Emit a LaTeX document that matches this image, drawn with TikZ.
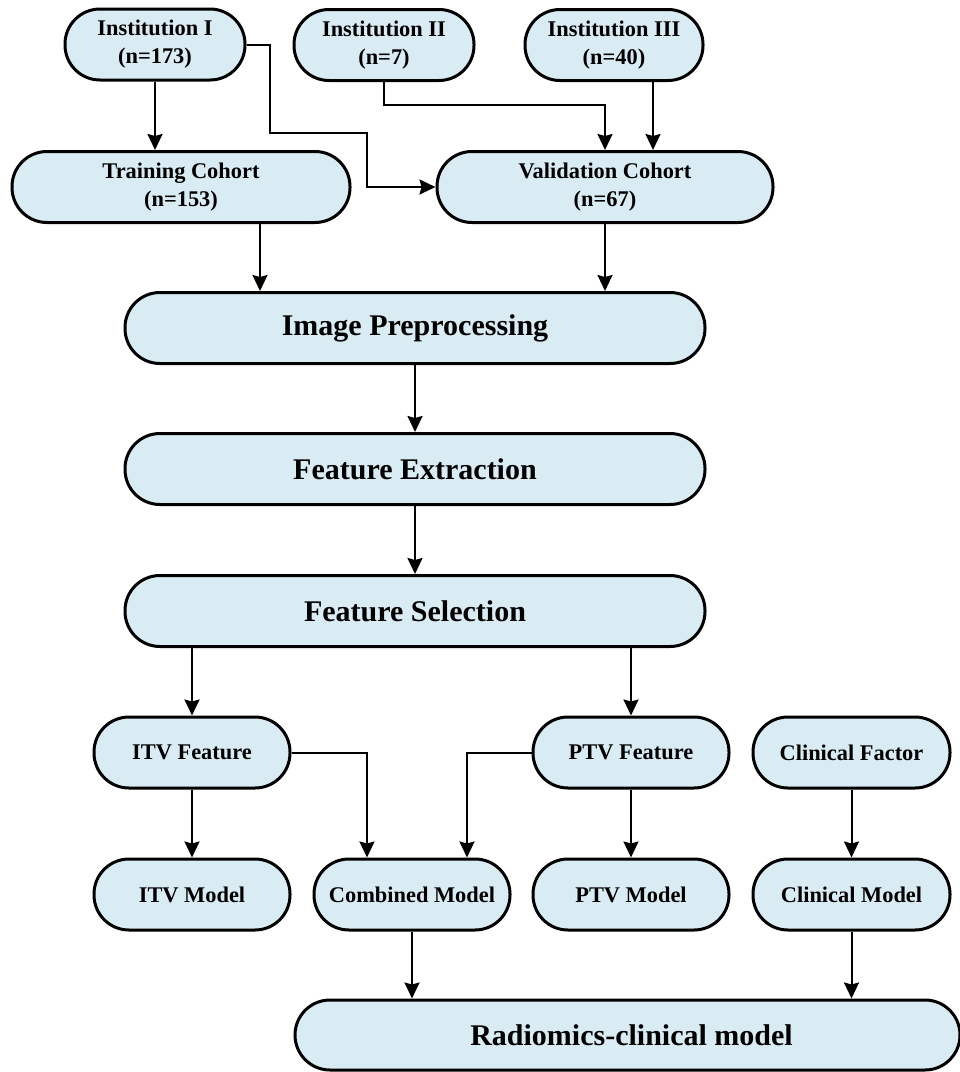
\documentclass[tikz,border=0pt]{standalone}
\usepackage{fontspec}
\setmainfont{Liberation Serif}
\usetikzlibrary{arrows.meta,positioning}
\definecolor{boxfill}{RGB}{218,236,243}
\tikzset{block/.style={draw, line width=3pt, fill=boxfill, rectangle, rounded corners=35pt, minimum height=71pt, align=center, font=\fontsize{22.4}{28}\selectfont\bfseries}, wide/.style={block, minimum width=580pt, font=\fontsize{30}{36}\selectfont\bfseries}, arr/.style={line width=2pt, -{Stealth[length=16pt,width=15pt,inset=2pt]}}}

\begin{document}
\begin{tikzpicture}[x=1pt,y=-1pt]
    \useasboundingbox (0,0) rectangle (960,1072);
    \node[block, minimum width=180pt] (inst1) at (155,44.5) {Institution I\\(n=173)};
    \node[block, minimum width=180pt] (inst2) at (384,45) {Institution II\\(n=7)};
    \node[block, minimum width=178pt] (inst3) at (614,45) {Institution III\\(n=40)};
    \node[block, minimum width=338pt] (train) at (181,187) {Training Cohort\\(n=153)};
    \node[block, minimum width=336pt] (valid) at (605,187) {Validation Cohort\\(n=67)};
    \node[wide] (prep) at (415,328) {Image Preprocessing};
    \node[wide] (extr) at (415,469) {Feature Extraction};
    \node[wide] (sel) at (415,611) {Feature Selection};
    \node[block, minimum width=196pt] (itvf) at (192,752.5) {ITV Feature};
    \node[block, minimum width=196pt] (ptvf) at (631,752.5) {PTV Feature};
    \node[block, minimum width=197pt] (clinf) at (851.5,752.5) {Clinical Factor};
    \node[block, minimum width=196pt] (itvm) at (192,894.5) {ITV Model};
    \node[block, minimum width=196pt] (comb) at (412,894.5) {Combined Model};
    \node[block, minimum width=196pt] (ptvm) at (631,894.5) {PTV Model};
    \node[block, minimum width=197pt] (clinm) at (851.5,894.5) {Clinical Model};
    \node[wide, minimum width=665pt, minimum height=70pt] (radio) at (627.5,1035) {\hspace*{8pt}Radiomics-clinical model};
    \draw[arr] (inst1.south) -- (inst1.south |- train.north);
    \draw[arr] (inst1.east) -- ++(23,0) |- (367,133) |- (valid.west);
    \draw[arr] (inst2.south) |- ([yshift=45pt]valid.north) -- (valid.north);
    \draw[arr] ([xshift=39pt]inst3.south) -- ([xshift=39pt]inst3.south |- valid.north);
    \draw[arr] ([xshift=79pt]train.south) -- ([xshift=79pt]train.south |- prep.north);
    \draw[arr] (valid.south) -- (valid.south |- prep.north);
    \draw[arr] (prep) -- (extr);
    \draw[arr] (extr) -- (sel);
    \draw[arr] (sel.south -| itvf.north) -- (itvf.north);
    \draw[arr] (sel.south -| ptvf.north) -- (ptvf.north);
    \draw[arr] (itvf) -- (itvm);
    \draw[arr] (itvf.east) -| ([xshift=-45pt]comb.north);
    \draw[arr] (ptvf.west) -| ([xshift=55pt]comb.north);
    \draw[arr] (ptvf) -- (ptvm);
    \draw[arr] (clinf) -- (clinm);
    \draw[arr] (comb.south) -- (comb.south |- radio.north);
    \draw[arr] (clinm.south) -- (clinm.south |- radio.north);
\end{tikzpicture}
\end{document}
